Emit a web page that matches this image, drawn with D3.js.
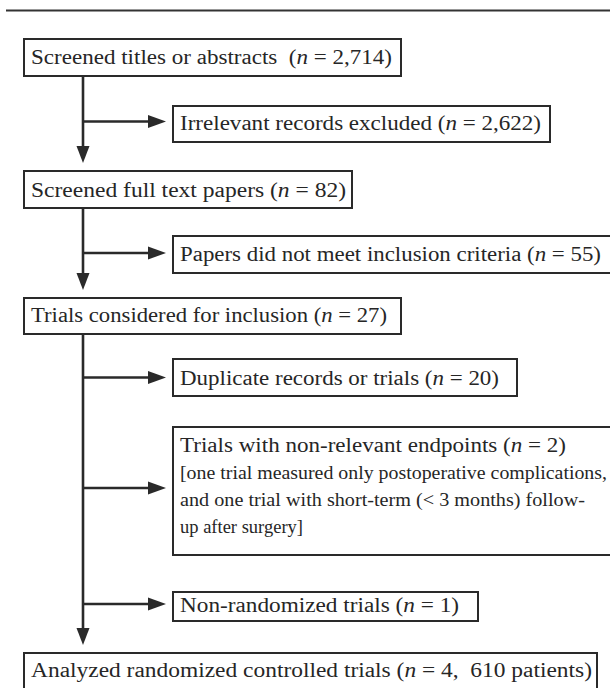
<!DOCTYPE html>
<html><head><meta charset="utf-8">
<script src="https://cdn.jsdelivr.net/npm/d3@7"></script>
<style>
html,body{margin:0;padding:0;background:#fff;overflow:hidden;}
svg{display:block;}
text{font-family:"Liberation Serif","Times New Roman",serif;fill:#262626;white-space:pre;}
</style>
</head><body><div id="chart"></div>
<script>
// ---- data ----
const stageLabels = ["Screened titles or abstracts ", "Screened full text papers", "Trials considered for inclusion", "Analyzed randomized controlled trials"];
const stageCounts = [2714, 82, 27, 4];
const analyzedPatients = 610;
const exclusionLabels = ["Irrelevant records excluded", "Papers did not meet inclusion criteria", "Duplicate records or trials", "Trials with non-relevant endpoints", "Non-randomized trials"];
const exclusionCounts = [2622, 55, 20, 2, 1];
const exclusionNotes = [[], [], [], ["[one trial measured only postoperative complications,", "and one trial with short-term (< 3 months) follow-", "up after surgery]"], []];

// ---- layout ----
const W = 610, H = 688;
const ink = "#2a2a2a";
const spineX = 83, sideX = 173, padX = 7;
const mainBoxes = [
  {x: 24, y: 39, w: 377, h: 37, base: 24.5, tw: 361},
  {x: 24, y: 171, w: 328, h: 37, base: 25.5, tw: 315},
  {x: 24, y: 298, w: 377, h: 36, base: 24, tw: 356},
  {x: 24, y: 653, w: 573, h: 60, base: 24, tw: 561}
];
const sideBoxes = [
  {y: 106, w: 377, h: 36, base: 24, arrowY: 121.5, tw: 361},
  {y: 236, w: 460, h: 37, base: 25, arrowY: 253, tw: 421},
  {y: 359, w: 344, h: 37, base: 26, arrowY: 377.5, tw: 319},
  {y: 427, w: 460, h: 128, base: 24.7, arrowY: 488, tw: 386, noteTw: [427, 405, 123], noteGap: 27},
  {y: 592, w: 305, h: 29, base: 19.5, arrowY: 604, tw: 279}
];
const fmt = d3.format(",");

const svg = d3.select("#chart").append("svg").attr("width", W).attr("height", H);

// top rule
svg.append("line").attr("x1", 6).attr("x2", W).attr("y1", 10.5).attr("y2", 10.5)
  .attr("stroke", "#333").attr("stroke-width", 2);

function labelText(g, x, y, label, nText, size, tw) {
  const t = g.append("text").attr("x", x).attr("y", y).attr("font-size", size)
    .attr("textLength", tw).attr("lengthAdjust", "spacingAndGlyphs");
  t.append("tspan").text(label + " (");
  t.append("tspan").attr("font-style", "italic").text("n");
  t.append("tspan").text(" = " + nText + ")");
  return t;
}

// main boxes
const mainG = svg.append("g");
mainBoxes.forEach((b, i) => {
  mainG.append("rect").attr("x", b.x).attr("y", b.y).attr("width", b.w).attr("height", b.h)
    .attr("fill", "#fff").attr("stroke", ink).attr("stroke-width", 2);
  const nText = i === 3 ? fmt(stageCounts[i]) + ",  " + fmt(analyzedPatients) + " patients" : fmt(stageCounts[i]);
  labelText(mainG, b.x + padX, b.y + b.base, stageLabels[i], nText, 20.5, b.tw);
});

// side boxes
const sideG = svg.append("g");
sideBoxes.forEach((b, i) => {
  sideG.append("rect").attr("x", sideX).attr("y", b.y).attr("width", b.w).attr("height", b.h)
    .attr("fill", "#fff").attr("stroke", ink).attr("stroke-width", 2);
  labelText(sideG, sideX + padX, b.y + b.base, exclusionLabels[i], fmt(exclusionCounts[i]), 20.5, b.tw);
  exclusionNotes[i].forEach((line, j) => {
    sideG.append("text").attr("x", sideX + padX).attr("y", b.y + b.base + b.noteGap * (j + 1))
      .attr("font-size", 18.5).attr("textLength", b.noteTw[j]).attr("lengthAdjust", "spacingAndGlyphs")
      .text(line);
  });
});

// arrows
const headLen = 17, headHalf = 6.5;
const arrowsG = svg.append("g");
function vArrow(x, y0, y1) {
  arrowsG.append("line").attr("x1", x).attr("x2", x).attr("y1", y0).attr("y2", y1 - headLen + 1)
    .attr("stroke", ink).attr("stroke-width", 2.6);
  arrowsG.append("path").attr("d", `M${x - headHalf},${y1 - headLen}L${x + headHalf},${y1 - headLen}L${x},${y1}Z`).attr("fill", ink);
}
function hArrow(y, x0, x1) {
  arrowsG.append("line").attr("x1", x0).attr("x2", x1 - headLen + 1).attr("y1", y).attr("y2", y)
    .attr("stroke", ink).attr("stroke-width", 2.6);
  arrowsG.append("path").attr("d", `M${x1 - headLen - 1},${y - headHalf}L${x1 - headLen - 1},${y + headHalf}L${x1},${y}Z`).attr("fill", ink);
}
for (let i = 0; i < mainBoxes.length - 1; i++) {
  vArrow(spineX, mainBoxes[i].y + mainBoxes[i].h, mainBoxes[i + 1].y - 8);
}
sideBoxes.forEach(b => hArrow(b.arrowY, spineX, sideX - 7));
</script>
</body></html>
